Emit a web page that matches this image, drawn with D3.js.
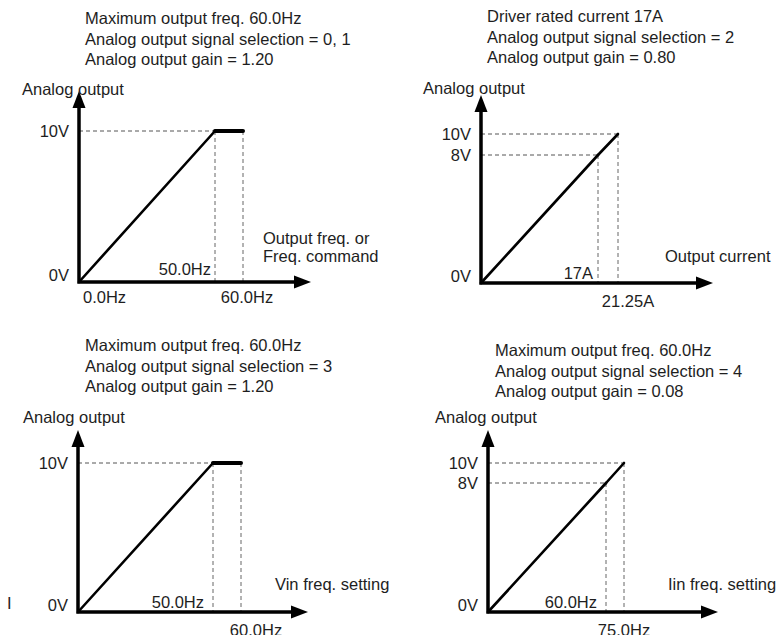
<!DOCTYPE html>
<html>
<head>
<meta charset="utf-8">
<script src="https://cdn.jsdelivr.net/npm/d3@7"></script>
<style>
  body { margin: 0; background: #fff; }
  text { font-family: "Liberation Sans", Arial, sans-serif; fill: #1e1e1e; }
</style>
</head>
<body>
<script>
// chart values
var titles = [
    ['Maximum output freq. 60.0Hz', 'Analog output signal selection = 0, 1', 'Analog output gain = 1.20'],
    ['Driver rated current 17A', 'Analog output signal selection = 2', 'Analog output gain = 0.80'],
    ['Maximum output freq. 60.0Hz', 'Analog output signal selection = 3', 'Analog output gain = 1.20'],
    ['Maximum output freq. 60.0Hz', 'Analog output signal selection = 4', 'Analog output gain = 0.08']
]
var y_title = 'Analog output'
var x_titles = [['Output freq. or', 'Freq. command'], ['Output current'], ['Vin freq. setting'], ['Iin freq. setting']]
var x_ticks = [[0, 50, 60], [0, 17, 21.25], [0, 50, 60], [0, 60, 75]]
var x_tick_labels = [['0.0Hz', '50.0Hz', '60.0Hz'], ['', '17A', '21.25A'], ['', '50.0Hz', '60.0Hz'], ['', '60.0Hz', '75.0Hz']]
var y_ticks = [[0, 10], [0, 8, 10], [0, 10], [0, 8, 10]]
var y_tick_labels = [['0V', '10V'], ['0V', '8V', '10V'], ['0V', '10V'], ['0V', '8V', '10V']]
var curves = [
    [[0, 0], [50, 10], [60, 10]],
    [[0, 0], [17, 8], [21.25, 10]],
    [[0, 0], [50, 10], [60, 10]],
    [[0, 0], [60, 8], [75, 10]]
]

// where each panel sits (the drawing is schematic, not to scale, so ticks map to drawn pixel offsets)
var layout = [
    {ox: 79, oy: 282, xPx: [0, 136, 164], yPx: [0, 151], xEnd: 311, yEnd: 91, titleX: 85, titleY: 24,
        yTitleX: 22, yTitleY: 95, xTitleX: 263, xTitleY: 244, aboveDy: -7, aboveGap: 4, belowDy: 21, lastDx: 4},
    {ox: 481, oy: 283, xPx: [0, 117, 137], yPx: [0, 128, 149], xEnd: 713, yEnd: 95, titleX: 487, titleY: 22,
        yTitleX: 423, yTitleY: 94, xTitleX: 665, xTitleY: 262, aboveDy: -4, aboveGap: 5, belowDy: 24, lastDx: 10},
    {ox: 78, oy: 612, xPx: [0, 135, 163], yPx: [0, 149], xEnd: 308, yEnd: 430, titleX: 85, titleY: 351,
        yTitleX: 23, yTitleY: 423, xTitleX: 275, xTitleY: 590, aboveDy: -4, aboveGap: 9, belowDy: 24, lastDx: 15},
    {ox: 488, oy: 612, xPx: [0, 118, 136], yPx: [0, 129, 149], xEnd: 718, yEnd: 430, titleX: 495, titleY: 356,
        yTitleX: 435, yTitleY: 423, xTitleX: 668, xTitleY: 590, aboveDy: -4, aboveGap: 9, belowDy: 24, lastDx: 0}
]

function plot_it() {
    var svgWidth = 779, svgHeight = 635, font_size = 16.5
    var arrow_len = 17, arrow_half = 6.5
    var svg = d3.select('body').append('svg').attr('width', svgWidth).attr('height', svgHeight).attr('id', 'svg0')

    layout.forEach(function(lay, i) {
        var g = svg.append('g').attr('class', 'panel')
        var scale_x = d3.scaleLinear().domain(x_ticks[i]).range(x_ticks[i].map((d, k) => lay.ox + lay.xPx[k]))
        var scale_y = d3.scaleLinear().domain(y_ticks[i]).range(y_ticks[i].map((d, k) => lay.oy - lay.yPx[k]))

        // title block
        g.selectAll('.title').data(titles[i]).enter().append('text')
            .attr('x', lay.titleX).attr('y', (d, k) => lay.titleY + k * 20.6)
            .attr('font-size', font_size).text(d => d)

        // dashed guides from the curve corners
        var seen_y = {}
        curves[i].slice(1).forEach(function(p) {
            var px = scale_x(p[0]), py = scale_y(p[1])
            if (!seen_y[p[1]]) {
                seen_y[p[1]] = true
                g.append('line').attr('x1', lay.ox).attr('x2', px).attr('y1', py).attr('y2', py)
                    .attr('stroke', '#555').attr('stroke-width', 1).attr('stroke-dasharray', '4,3')
            }
            g.append('line').attr('x1', px).attr('x2', px).attr('y1', py).attr('y2', lay.oy)
                .attr('stroke', '#666').attr('stroke-width', 1).attr('stroke-dasharray', '4,3')
        })

        // curve, flat parts drawn a bit heavier
        var segs = d3.pairs(curves[i])
        g.selectAll('.seg').data(segs).enter().append('line')
            .attr('x1', d => scale_x(d[0][0])).attr('y1', d => scale_y(d[0][1]))
            .attr('x2', d => scale_x(d[1][0])).attr('y2', d => scale_y(d[1][1]))
            .attr('stroke', '#000').attr('stroke-linecap', 'round')
            .attr('stroke-width', d => d[0][1] == d[1][1] ? 4 : 2.6)

        // axes with arrowheads
        g.append('path')
            .attr('d', 'M' + lay.ox + ',' + (lay.yEnd + arrow_len) + 'L' + lay.ox + ',' + lay.oy + 'L' + (lay.xEnd - arrow_len) + ',' + lay.oy)
            .attr('fill', 'none').attr('stroke', '#000').attr('stroke-width', 3.5).attr('stroke-linecap', 'square')
        g.append('path')
            .attr('d', 'M' + lay.ox + ',' + lay.yEnd + 'L' + (lay.ox - arrow_half) + ',' + (lay.yEnd + arrow_len)
                + 'L' + (lay.ox + arrow_half) + ',' + (lay.yEnd + arrow_len) + 'Z')
            .attr('fill', '#000')
        g.append('path')
            .attr('d', 'M' + lay.xEnd + ',' + lay.oy + 'L' + (lay.xEnd - arrow_len) + ',' + (lay.oy - arrow_half)
                + 'L' + (lay.xEnd - arrow_len) + ',' + (lay.oy + arrow_half) + 'Z')
            .attr('fill', '#000')

        // y tick labels
        g.selectAll('.ylab').data(y_ticks[i]).enter().append('text')
            .attr('x', lay.ox - 10).attr('y', d => d == 0 ? lay.oy - 1 : scale_y(d) + 5.5)
            .attr('text-anchor', 'end').attr('font-size', font_size)
            .text((d, k) => y_tick_labels[i][k])

        // x tick labels: origin below-left, middle above-left of its guide, last below
        var n = x_ticks[i].length
        g.selectAll('.xlab').data(x_ticks[i]).enter().append('text')
            .attr('font-size', font_size)
            .attr('x', (d, k) => k == 0 ? lay.ox + 4 : k == n - 1 ? scale_x(d) + lay.lastDx : scale_x(d) - lay.aboveGap)
            .attr('y', (d, k) => k == 0 || k == n - 1 ? lay.oy + lay.belowDy : lay.oy + lay.aboveDy)
            .attr('text-anchor', (d, k) => k == 0 ? 'start' : k == n - 1 ? 'middle' : 'end')
            .text((d, k) => x_tick_labels[i][k])

        // axis titles
        g.append('text').attr('x', lay.yTitleX).attr('y', lay.yTitleY).attr('font-size', font_size).text(y_title)
        g.selectAll('.xtitle').data(x_titles[i]).enter().append('text')
            .attr('x', lay.xTitleX).attr('y', (d, k) => lay.xTitleY + k * 18)
            .attr('font-size', font_size).text(d => d)
    })

    // stray mark at the left edge of the scan
    svg.append('text').attr('x', 7).attr('y', 609).attr('font-size', font_size).text('I')
}

plot_it()
</script>
</body>
</html>
